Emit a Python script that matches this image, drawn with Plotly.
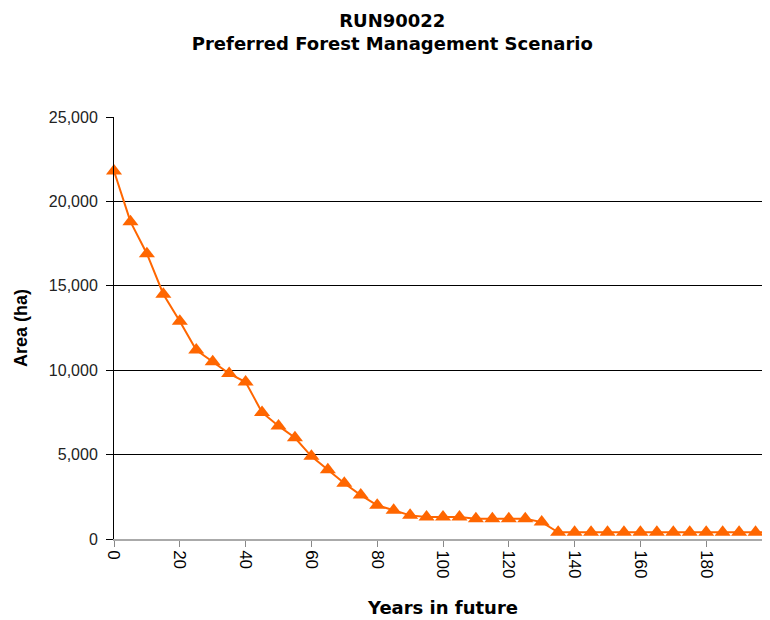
import plotly.graph_objects as go

years = list(range(0, 205, 5))
area = [21800, 18800, 16900, 14500, 12900, 11200, 10500, 9800, 9300, 7500,
        6700, 6000, 4900, 4100, 3300, 2600, 2000, 1700, 1400, 1300,
        1300, 1300, 1200, 1200, 1200, 1200, 1000, 400, 400, 400,
        400, 400, 400, 400, 400, 400, 400, 400, 400, 400, 400]
tick_years = list(range(0, 220, 20))
tick_labels = [str(v) for v in tick_years]
y_ticks = [0, 5000, 10000, 15000, 20000, 25000]
y_labels = ["0", "5,000", "10,000", "15,000", "20,000", "25,000"]

FONT = "Liberation Sans, Arial, sans-serif"
WIDE = "DejaVu Sans, Liberation Sans, sans-serif"

W, H = 764, 612

fig = go.Figure()
fig.add_trace(go.Scatter(
    x=years, y=area, mode="lines+markers",
    line=dict(color="#FF6600", width=2),
    marker=dict(symbol="triangle-up", size=14, color="#FF6600"),
    cliponaxis=False, showlegend=False,
))

fig.update_layout(
    width=W, height=H,
    margin=dict(l=106, r=0, t=109, b=81, autoexpand=False),
    paper_bgcolor="white", plot_bgcolor="white",
    font=dict(family=FONT, color="#000"),
    title=dict(
        text="<b>RUN90022</b><br><b>Preferred Forest Management Scenario</b>",
        x=0.503, xanchor="center", yref="container", y=1 - 19 / H, yanchor="middle",
        font=dict(size=18, family=WIDE, color="#000"),
    ),
    xaxis=dict(
        range=[0, 200], tickmode="array", tickvals=tick_years, ticktext=tick_labels,
        tickangle=90, tickfont=dict(size=17, color="#000", family=FONT),
        ticks="outside", ticklen=6, tickcolor="#888",
        showline=True, linecolor="#aaa", linewidth=1.5,
        showgrid=False, zeroline=False, automargin=False,
        title=dict(text="<b>Years in future</b>", font=dict(size=18, family=WIDE), standoff=24),
    ),
    yaxis=dict(
        range=[0, 25000], tickmode="array", tickvals=y_ticks, ticktext=y_labels,
        tickfont=dict(size=16, color="#222", family=FONT), ticklabelstandoff=5,
        ticks="outside", ticklen=7, tickcolor="#000",
        showline=True, linecolor="#000", linewidth=1,
        showgrid=True, gridcolor="#000", gridwidth=1,
        zeroline=False, automargin=False,
        title=dict(text="<b>Area (ha)</b>", font=dict(size=18, family=FONT), standoff=16),
    ),
)

fig.write_html("out.html")
